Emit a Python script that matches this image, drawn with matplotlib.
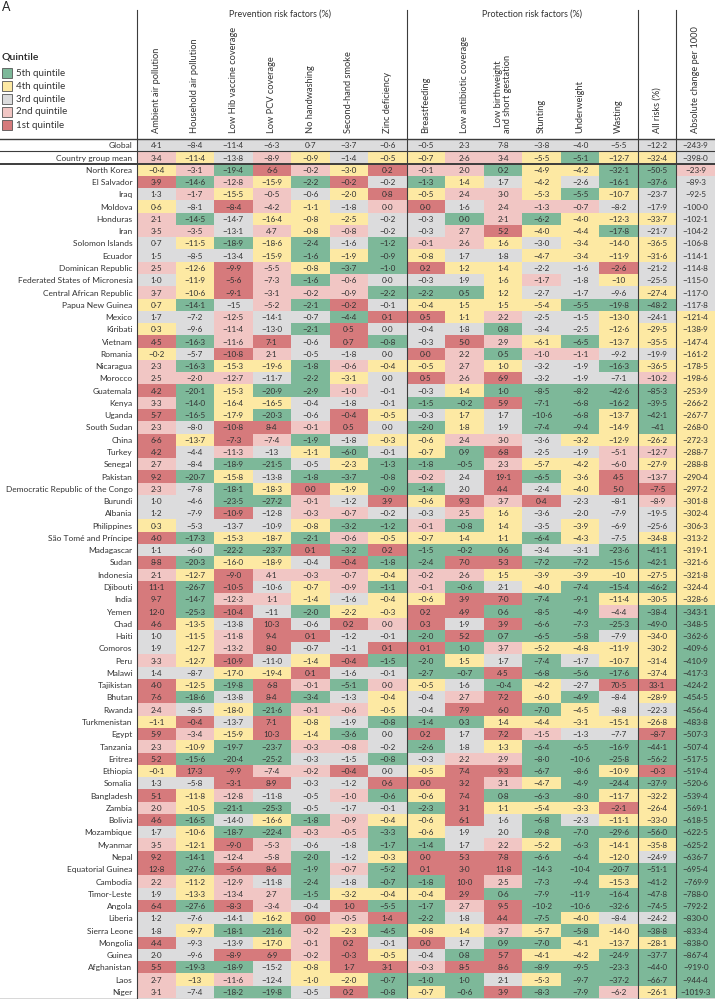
import numpy as np
import matplotlib
matplotlib.use("Agg")
import matplotlib.pyplot as plt
from matplotlib.colors import ListedColormap
from matplotlib.lines import Line2D
from matplotlib.patches import Rectangle
import matplotlib.transforms as mtransforms

plt.rcParams['font.family'] = ['Lato', 'DejaVu Sans']

# ---------------- data ----------------
prevention_cols = ["Ambient air pollution", "Household air pollution", "Low Hib vaccine coverage",
                   "Low PCV coverage", "No handwashing", "Second-hand smoke", "Zinc deficiency"]
protection_cols = ["Breastfeeding", "Low antibiotic coverage", "Low birthweight\nand short gestation",
                   "Stunting", "Underweight", "Wasting"]
summary_cols = ["All risks (%)", "Absolute change per 1000"]

rows = ["Global", "Country group mean", "North Korea", "El Salvador", "Iraq", "Moldova", "Honduras", "Iran",
        "Solomon Islands", "Ecuador", "Dominican Republic", "Federated States of Micronesia",
        "Central African Republic", "Papua New Guinea", "Mexico", "Kiribati", "Vietnam", "Romania",
        "Nicaragua", "Morocco", "Guatemala", "Kenya", "Uganda", "South Sudan", "China", "Turkey",
        "Senegal", "Pakistan", "Democratic Republic of the Congo", "Burundi", "Albania", "Philippines",
        "São Tomé and Príncipe", "Madagascar", "Sudan", "Indonesia", "Djibouti", "India", "Yemen",
        "Chad", "Haiti", "Comoros", "Peru", "Malawi", "Tajikistan", "Bhutan", "Rwanda", "Turkmenistan",
        "Egypt", "Tanzania", "Eritrea", "Ethiopia", "Somalia", "Bangladesh", "Zambia", "Bolivia",
        "Mozambique", "Myanmar", "Nepal", "Equatorial Guinea", "Cambodia", "Timor-Leste", "Angola",
        "Liberia", "Sierra Leone", "Mongolia", "Guinea", "Afghanistan", "Laos", "Niger"]

prevention = [
    [4.1, -8.4, -11.4, -6.3, 0.7, -3.7, -0.6],
    [3.4, -11.4, -13.8, -8.9, -0.9, -1.4, -0.5],
    [-0.4, -3.1, -19.4, 6.6, -0.2, -3.0, 0.2],
    [3.9, -14.6, -12.8, -15.9, -2.2, -0.2, -0.2],
    [1.3, -1.7, -15.5, -0.5, -0.6, -2.0, 0.8],
    [0.6, -8.1, -8.4, -4.2, -1.1, -1.8, 0.0],
    [2.1, -14.5, -14.7, -16.4, -0.8, -2.5, -0.2],
    [3.5, -3.5, -13.1, 4.7, -0.8, -0.8, -0.2],
    [0.7, -11.5, -18.9, -18.6, -2.4, -1.6, -1.2],
    [1.5, -8.5, -13.4, -15.9, -1.6, -1.9, -0.9],
    [2.5, -12.6, -9.9, -5.5, -0.8, -3.7, -1.0],
    [1.0, -11.9, -5.6, -7.3, -1.6, -0.6, 0.0],
    [3.7, -10.6, -9.1, -3.1, -0.2, -0.9, -2.2],
    [0.7, -14.1, -15, -5.2, -2.1, -0.2, -0.1],
    [1.7, -7.2, -12.5, -14.1, -0.7, -4.4, 0.1],
    [0.3, -9.6, -11.4, -13.0, -2.1, 0.5, 0.0],
    [4.5, -16.3, -11.6, 7.1, -0.6, 0.7, -0.8],
    [-0.2, -5.7, -10.8, 2.1, -0.5, -1.8, 0.0],
    [2.3, -16.3, -15.3, -19.6, -1.8, -0.6, -0.4],
    [2.5, -2.0, -12.7, -11.7, -2.2, -3.1, 0.0],
    [4.2, -20.1, -15.3, -20.9, -2.9, -1.0, -0.1],
    [3.3, -14.0, -16.4, -16.5, -0.4, -1.8, -0.1],
    [5.7, -16.5, -17.9, -20.3, -0.6, -0.4, -0.5],
    [2.3, -8.0, -10.8, 8.4, -0.1, 0.5, 0.0],
    [6.6, -13.7, -7.3, -7.4, -1.9, -1.8, -0.3],
    [4.2, -4.4, -11.3, -13, -1.1, -6.0, -0.1],
    [2.7, -8.4, -18.9, -21.5, -0.5, -2.3, -1.3],
    [9.2, -20.7, -15.8, -13.8, -1.8, -3.7, -0.8],
    [2.3, -7.8, -18.1, -18.3, 0.0, -1.9, -0.9],
    [1.0, -4.6, -23.5, -27.2, -0.1, -1.2, 3.9],
    [1.2, -7.9, -10.9, -12.8, -0.3, -0.7, -0.2],
    [0.3, -5.3, -13.7, -10.9, -0.8, -3.2, -1.2],
    [4.0, -17.3, -15.3, -18.7, -2.1, -0.6, -0.5],
    [1.1, -6.0, -22.2, -23.7, 0.1, -3.2, 0.2],
    [8.8, -20.3, -16.0, -18.9, -0.4, -0.4, -1.8],
    [2.1, -12.7, -9.0, 4.1, -0.3, -0.7, -0.4],
    [11.1, -26.7, -10.5, -10.6, -0.7, -0.9, -1.1],
    [9.7, -14.7, -12.3, 1.1, -1.4, -1.6, -0.4],
    [12.0, -25.3, -10.4, -11, -2.0, -2.2, -0.3],
    [4.6, -13.5, -13.8, 10.3, -0.6, 0.2, 0.0],
    [1.0, -11.5, -11.8, 9.4, 0.1, -1.2, -0.1],
    [1.9, -12.7, -13.2, 8.0, -0.7, -1.1, 0.1],
    [3.3, -12.7, -10.9, -11.0, -1.4, -0.4, -1.5],
    [1.4, -8.7, -17.0, -19.4, 0.1, -1.6, -0.1],
    [4.0, -12.5, -19.8, 6.8, -0.1, -5.1, 0.0],
    [7.6, -18.6, -13.8, 8.4, -3.4, -1.3, -0.4],
    [2.4, -8.5, -18.0, -21.6, -0.1, -0.6, -0.5],
    [-1.1, -0.4, -13.7, 7.1, -0.8, -1.9, -0.8],
    [5.9, -3.4, -15.9, 10.3, -1.4, -3.6, 0.0],
    [2.3, -10.9, -19.7, -23.7, -0.3, -0.8, -0.2],
    [5.2, -15.6, -20.4, -25.2, -0.3, -1.5, -0.8],
    [-0.1, 17.3, -9.9, -7.4, -0.2, -0.4, 0.0],
    [1.3, -5.8, -3.1, 8.9, -0.3, -1.2, 0.6],
    [5.1, -11.8, -12.8, -11.8, -0.5, -1.0, -0.6],
    [2.0, -10.5, -21.1, -25.3, -0.5, -1.7, -0.1],
    [4.6, -16.5, -14.0, -16.6, -1.8, -0.9, -0.4],
    [1.7, -10.6, -18.7, -22.4, -0.3, -0.5, -3.3],
    [3.5, -12.1, -9.0, -5.3, -0.6, -1.8, -1.7],
    [9.2, -14.1, -12.4, -5.8, -2.0, -1.2, -0.3],
    [12.8, -27.6, -5.6, 8.6, -1.9, -0.7, -5.2],
    [2.2, -11.2, -12.9, -11.8, -2.4, -1.8, -0.7],
    [1.9, -13.3, -13.4, 2.7, -1.5, -3.2, -0.4],
    [6.4, -27.6, -8.3, -3.4, -0.4, 1.0, -5.5],
    [1.2, -7.6, -14.1, -16.2, 0.0, -0.5, 1.4],
    [1.8, -9.7, -18.1, -21.6, -0.2, -2.3, -4.5],
    [4.4, -9.3, -13.9, -17.0, -0.1, 0.2, -0.1],
    [2.0, -9.6, -8.9, 6.9, -0.2, -0.3, -0.5],
    [5.5, -19.3, -18.9, -15.2, -0.8, 1.7, 3.1],
    [2.7, -13, -11.6, -12.4, -1.0, -2.0, -0.7],
    [3.1, -7.4, -18.2, -19.8, -0.5, 0.2, -0.8],
]

protection = [
    [-0.5, 2.3, 7.8, -3.8, -4.0, -5.5],
    [-0.7, 2.6, 3.4, -5.5, -5.1, -12.7],
    [-0.1, 2.0, 0.2, -4.9, -4.2, -32.1],
    [-1.3, 1.4, 1.7, -4.2, -2.6, -16.1],
    [-0.5, 2.4, 3.0, -5.3, -5.5, -10.7],
    [0.0, 1.6, 2.4, -1.3, -0.7, -8.2],
    [-0.3, 0.0, 2.1, -6.2, -4.0, -12.3],
    [-0.3, 2.7, 5.2, -4.0, -4.4, -17.8],
    [-0.1, 2.6, 1.6, -3.0, -3.4, -14.0],
    [-0.8, 1.7, 1.8, -4.7, -3.4, -11.9],
    [0.2, 1.2, 1.4, -2.2, -1.6, -2.6],
    [-0.3, 1.9, 1.6, -1.7, -1.8, -10],
    [-2.2, 0.5, 1.2, -2.7, -1.7, -9.6],
    [-0.4, 1.5, 1.5, -5.4, -5.5, -19.8],
    [0.5, 1.1, 2.2, -2.5, -1.5, -13.0],
    [-0.4, 1.8, 0.8, -3.4, -2.5, -12.6],
    [-0.3, 5.0, 2.9, -6.1, -6.5, -13.7],
    [0.0, 2.2, 0.5, -1.0, -1.1, -9.2],
    [-0.5, 2.7, 1.0, -3.2, -1.9, -16.3],
    [0.5, 2.6, 6.9, -3.2, -1.9, -7.1],
    [-0.3, 1.4, 1.0, -8.5, -8.2, -42.6],
    [-1.5, -0.2, 5.9, -7.1, -6.8, -16.2],
    [-0.3, 1.7, 1.7, -10.6, -6.8, -13.7],
    [-2.0, 1.8, 1.9, -7.4, -9.4, -14.9],
    [-0.6, 2.4, 3.0, -3.6, -3.2, -12.9],
    [-0.7, 0.9, 6.8, -2.5, -1.9, -5.1],
    [-1.8, -0.5, 2.3, -5.7, -4.2, -6.0],
    [-0.2, 2.4, 19.1, -6.5, -3.6, 4.5],
    [-1.4, 2.0, 4.4, -2.4, -4.0, 5.0],
    [-0.6, 9.3, 3.7, 0.4, -2.3, -8.1],
    [-0.3, 2.5, 1.6, -3.6, -2.0, -7.9],
    [-0.1, -0.8, 1.4, -3.5, -3.9, -6.9],
    [-0.7, 1.4, 1.1, -6.4, -4.3, -7.5],
    [-1.5, -0.2, 0.6, -3.4, -3.1, -23.6],
    [-2.4, 7.0, 5.3, -7.2, -7.2, -15.6],
    [-0.2, 2.6, 1.5, -3.9, -3.9, -10],
    [-0.1, -0.6, 2.1, -4.0, -7.4, -15.4],
    [-0.6, 3.9, 7.0, -7.4, -9.1, -11.4],
    [0.2, 4.9, 0.6, -8.5, -4.9, -4.4],
    [0.3, 1.9, 3.9, -6.6, -7.3, -25.3],
    [-2.0, 5.2, 0.7, -6.5, -5.8, -7.9],
    [0.1, 1.0, 3.7, -5.2, -4.8, -11.9],
    [-2.0, 1.5, 1.7, -7.4, -1.7, -10.7],
    [-2.7, -0.7, 4.5, -6.8, -5.6, -17.6],
    [-0.5, 1.6, -0.4, -4.2, -2.7, 70.5],
    [-0.4, 2.7, 7.2, -6.0, -4.9, -8.4],
    [-0.4, 7.9, 6.0, -7.0, -4.5, -8.8],
    [-1.4, 0.3, 1.4, -4.4, -3.1, -15.1],
    [0.2, 1.7, 7.2, -1.5, -1.3, -7.7],
    [-2.6, 1.8, 1.3, -6.4, -6.5, -16.9],
    [-0.3, 2.2, 2.9, -8.0, -10.6, -25.8],
    [-0.5, 7.4, 9.3, -6.7, -8.6, -10.9],
    [0.0, 3.2, 3.1, -4.7, -4.9, -24.4],
    [-0.6, 7.4, 0.8, -6.3, -8.0, -11.7],
    [-2.3, 3.1, 1.1, -5.4, -3.3, -2.1],
    [-0.6, 6.1, 1.6, -6.8, -2.3, -11.1],
    [-0.6, 1.9, 2.0, -9.8, -7.0, -29.6],
    [-1.4, 1.7, 2.2, -5.2, -6.3, -14.1],
    [0.0, 5.3, 7.8, -6.6, -6.4, -12.0],
    [0.1, 3.0, 11.8, -14.3, -10.4, -20.7],
    [-1.8, 10.0, 2.5, -7.3, -9.4, -15.3],
    [-0.4, 2.9, 0.6, -7.9, -11.9, -16.4],
    [-1.7, 2.7, 9.5, -10.2, -10.6, -32.6],
    [-2.2, 1.8, 4.4, -7.5, -4.0, -8.4],
    [-0.8, 1.4, 3.7, -5.7, -5.8, -14.0],
    [0.0, 1.7, 0.9, -7.0, -4.1, -13.7],
    [-0.4, 0.8, 5.7, -4.1, -4.2, -24.9],
    [-0.3, 8.5, 8.6, -8.9, -9.5, -23.3],
    [-1.0, 1.0, 2.1, -5.3, -9.7, -37.2],
    [-0.7, -0.6, 3.9, -8.3, -7.9, -6.2],
]

all_risks = [-12.2, -32.4, -50.5, -37.6, -23.7, -17.9, -33.7, -21.7, -36.5, -31.6, -21.2, -25.5, -27.4,
             -48.2, -24.1, -29.5, -35.5, -19.9, -36.5, -10.2, -85.3, -39.5, -42.1, -41, -26.2, -12.7,
             -27.9, -13.7, -7.5, -8.9, -19.5, -25.6, -34.8, -41.1, -42.1, -27.5, -46.2, -30.5, -38.4,
             -49.0, -34.0, -30.2, -31.4, -37.4, 33.1, -28.9, -22.3, -26.8, -8.7, -44.1, -56.2, -0.3,
             -37.9, -32.2, -26.4, -33.0, -56.0, -35.8, -24.9, -51.1, -41.2, -47.8, -74.5, -24.2, -38.8,
             -28.1, -37.7, -44.0, -66.7, -26.1]

abs_change = [-243.9, -398.0, -23.9, -89.3, -92.5, -100.0, -102.1, -104.2, -106.8, -114.1, -114.8, -115.0,
              -117.0, -117.8, -121.4, -138.9, -147.4, -161.2, -178.5, -198.6, -253.9, -266.2, -267.7,
              -268.0, -272.3, -288.7, -288.8, -290.4, -297.2, -301.8, -302.4, -306.3, -313.2, -319.1,
              -321.6, -321.8, -324.4, -328.6, -343.1, -348.5, -362.6, -409.6, -410.9, -417.3, -424.2,
              -454.5, -456.4, -483.8, -507.3, -507.4, -517.5, -519.4, -520.6, -539.4, -569.1, -618.5,
              -622.5, -625.2, -636.7, -695.4, -769.9, -788.0, -792.2, -830.0, -833.4, -838.0, -867.4,
              -919.0, -944.4, -1019.3]

# quintile of each cell: G=5th, Y=4th, N=3rd, P=2nd, R=1st
quintiles = [
    "NNNNNNNNNNNNNNN", "PYNPYNYYPPYGYYN", "YPGRPYRPPGYYGGP", "RGPYGRNGYNYNGGN",
    "NPYPNYRYPPYGYNN", "YNRPYNPRNPPPNNN", "PGNYYYNNGPGYYYN", "PPNPYPNNPRYYGNN",
    "NYGYGNGPPYNYYYN", "NNNYGYGYNNYYYYN", "PYRPYGGRYYNNRNN", "NYRPGPNNNYPNYNN",
    "PYRPPPGGGYNNNYN", "YGNPGRNYYYYGGGN", "NNPNNGRRYPNNYNY", "YNPNGRNNNGNNYYY",
    "RGPRNRGNRPYGYYY", "YNRPNNNRPGPPNNY", "PGYYGPYYPYNNGYY", "PPPNGYNRPRNNNPY",
    "RGYGGPNNYGGGGGY", "PGYYNNNGGRGGGGY", "RGYGNRYNYNGGYGY", "PNRRPRNGYNGGYGY",
    "RYRPGNYYPPNYYYY", "RNPNYGNYGRNNPPY", "PNGGNYGGGPYYPYY", "RGYNGGGPNRGYRPY",
    "PNGYRYGGNRNYRRY", "NNGGPNRYRPRNNPY", "NNRNPPNNPYNNNNY", "YNNNYGGPGYNYNNY",
    "RGYYGPYYYYGYNYY", "NNGGRGRGGGNNGGY", "RGYYNRGGRRGGGGY", "PYRPPPYPPYYYYYY",
    "RGRNYPGPGNYGGGY", "RGPPYNYYRRGGYYY", "RGRNGYYRRGGGPGG", "RYNRNRPRNRGGGGG",
    "NYPRRNNGRGGGNYG", "NYPRNNRRGPYYYYG", "PYRNYRGGYNGNYYG", "NNYYRNNGGRGGGYG",
    "RYGRPGPYNGYNRRG", "RGNRGNYNPRYGNYG", "PNYGPPYNRRGYNNG", "YRNRYNGGGYYYYYG",
    "RPYRYGNRNRPNNRG", "PYGGPPNGNYGGGGG", "RGGGNNGNPPGGGGG", "YRRPPRNYRRGGYRG",
    "NNRRNNRRRPYGGGG", "RYPNNPGYRGGGYYG", "PYGGNNNGRYYYRYG", "RGNYGPYYRNGNYYG",
    "NYGGPPGYNNGGGGG", "PYRPNNGGNPYGYYG", "RGPPGNYRRRGGYNG", "RGRRGPGRRRGGGGG",
    "PYPNGNGGRPGGYGG", "NYPPGYYYRGGGGGG", "RGRPNRGGPRGGGGG", "NNNYRPRGNRGYNNG",
    "NYGGPYGYYPYGYGG", "RNNYPRNRNGGYYYG", "NNRRPRYNGRYYGGG", "RGGNYRRPRRGGGGG",
    "PYPNYYGGGNYGGGG", "PNGGNRGYGRGGPYG",
]

quintile_labels = ["5th quintile", "4th quintile", "3rd quintile", "2nd quintile", "1st quintile"]
quintile_colors = {"G": "#7db899", "Y": "#fde9a3", "N": "#dcdcdd", "P": "#f1c6c4", "R": "#d67a7c"}
code_order = ["R", "P", "N", "Y", "G"]

# ---------------- figure ----------------
W, H = 715, 999
fig = plt.figure(figsize=(W / 100, H / 100), dpi=100)


def fx(x):
    return x / W


def fy(y):
    return 1 - y / H


tab_left, tab_right, tab_top, tab_bot = 137, 715, 139, 998
ax = fig.add_axes([fx(tab_left), fy(tab_bot), fx(tab_right - tab_left), (tab_bot - tab_top) / H])
ncol = len(prevention_cols) + len(protection_cols) + len(summary_cols)
nrow = len(rows)

values = [list(prevention[i]) + list(protection[i]) + [all_risks[i], abs_change[i]] for i in range(nrow)]
Z = np.array([[code_order.index(c) for c in q] for q in quintiles], dtype=float)
cmap = ListedColormap([quintile_colors[c] for c in code_order])
ax.pcolormesh(np.arange(ncol + 1), np.arange(nrow + 1), Z, cmap=cmap, vmin=-0.5, vmax=4.5,
              edgecolors="none")
ax.set_xlim(0, ncol)
ax.set_ylim(nrow, 0)
ax.axis("off")

txt_color = "#333333"


def fmt(v):
    sign = "\u2212" if v < 0 else ""
    if isinstance(v, int):
        return sign + str(abs(v))
    return sign + f"{abs(v):.1f}".replace(".", "\u00b7")


for i in range(nrow):
    for j in range(ncol):
        ax.text(j + 0.5, i + 0.55, fmt(values[i][j]), ha="center", va="center",
                fontsize=5.9, color=txt_color)
    ax.text(-0.12, i + 0.55, rows[i], ha="right", va="center", fontsize=6.0,
            color=txt_color, clip_on=False)

# column headers
trans = mtransforms.blended_transform_factory(ax.transData, fig.transFigure)
col_labels = prevention_cols + protection_cols + summary_cols
for j, lab in enumerate(col_labels):
    ax.text(j + 0.5, fy(133), lab, rotation=90, ha="center", va="bottom", fontsize=6.7,
            color=txt_color, transform=trans, linespacing=1.0)

ax.text(3.7, fy(14), "Prevention risk factors (%)", ha="center", va="center", fontsize=6.4,
        color=txt_color, transform=trans)
ax.text(10.25, fy(14), "Protection risk factors (%)", ha="center", va="center", fontsize=6.4,
        color=txt_color, transform=trans)

# separators
line_col = "#3c3c3c"
for xp in [0, 7, 13, 14]:
    ax.plot([xp, xp], [fy(10), fy(999)], color=line_col, lw=0.8, transform=trans, clip_on=False)
for yp, lw in [(tab_top, 1.0), (151.3, 0.8), (164.0, 1.4), (998.5, 1.0)]:
    fig.add_artist(Line2D([0, 1], [fy(yp), fy(yp)], color=line_col, lw=lw, transform=fig.transFigure))

# panel letter and legend
fig.text(fx(2), fy(7), "A", fontsize=9, color="#222222", ha="left", va="center")
fig.text(fx(2), fy(57), "Quintile", fontsize=7.5, color="#222222", ha="left", va="center",
         fontweight="semibold")
for k, (lab, code) in enumerate(zip(quintile_labels, ["G", "Y", "N", "P", "R"])):
    yc = 73 + k * 13
    fig.add_artist(Rectangle((fx(2), fy(yc + 4.5)), fx(10), (9 / H),
                             facecolor=quintile_colors[code], edgecolor="#555555", lw=0.6,
                             transform=fig.transFigure))
    fig.text(fx(16), fy(yc), lab, fontsize=7.0, color="#333333", ha="left", va="center")

fig.savefig("out.png", dpi=100)
